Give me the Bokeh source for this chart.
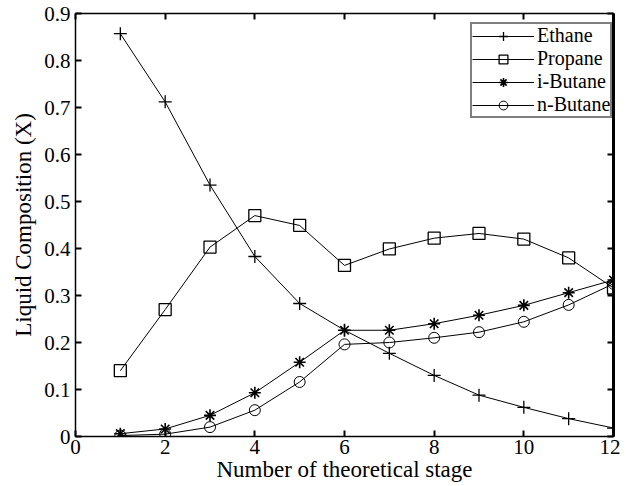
from bokeh.plotting import figure
from bokeh.models import LinearAxis, Range1d, Legend, LegendItem, FixedTicker
from bokeh.embed import file_html
from bokeh.resources import INLINE

stages = [1, 2, 3, 4, 5, 6, 7, 8, 9, 10, 11, 12]
ethane = [0.857, 0.712, 0.535, 0.383, 0.283, 0.226, 0.177, 0.130, 0.088, 0.062, 0.038, 0.018]
propane = [0.140, 0.270, 0.403, 0.470, 0.449, 0.364, 0.399, 0.422, 0.432, 0.420, 0.380, 0.316]
ibutane = [0.006, 0.016, 0.045, 0.093, 0.158, 0.226, 0.226, 0.240, 0.258, 0.279, 0.306, 0.333]
nbutane = [0.002, 0.005, 0.020, 0.056, 0.116, 0.196, 0.200, 0.210, 0.222, 0.244, 0.280, 0.325]
x_ticks = [0, 2, 4, 6, 8, 10, 12]
y_ticks = [0, 0.1, 0.2, 0.3, 0.4, 0.5, 0.6, 0.7, 0.8, 0.9]
y_tick_labels = ["0", "0.1", "0.2", "0.3", "0.4", "0.5", "0.6", "0.7", "0.8", "0.9"]

FONT = "Liberation Serif"

p = figure(width=620, height=484, output_backend="svg", toolbar_location=None,
           x_range=Range1d(0, 12), y_range=Range1d(0, 0.9),
           min_border_left=75, min_border_right=7, min_border_top=13, min_border_bottom=48)
p.xgrid.visible = False
p.ygrid.visible = False
p.outline_line_color = "black"
p.outline_line_width = 1.5
p.background_fill_color = "white"
p.border_fill_color = "white"

def style_axis(ax):
    ax.axis_line_color = "black"
    ax.major_tick_in = 6
    ax.major_tick_out = 0
    ax.minor_tick_in = 0
    ax.minor_tick_out = 0
    ax.major_tick_line_width = 2
    ax.major_label_text_font = FONT
    ax.major_label_text_font_size = "21px"
    ax.major_label_text_color = "black"
    ax.axis_label_text_font = FONT
    ax.axis_label_text_font_style = "normal"
    ax.axis_label_text_font_size = "23px"
    ax.axis_label_text_color = "black"

p.xaxis.ticker = FixedTicker(ticks=x_ticks)
p.yaxis.ticker = FixedTicker(ticks=y_ticks)
p.yaxis.major_label_overrides = {t: l for t, l in zip(y_ticks, y_tick_labels)}
p.xaxis.axis_label = "Number of theoretical stage"
p.yaxis.axis_label = "Liquid Composition (X)"
style_axis(p.xaxis[0])
style_axis(p.yaxis[0])
p.xaxis.axis_label_standoff = 0
p.xaxis.major_label_standoff = 3
p.yaxis.axis_label_standoff = 5
p.yaxis.major_label_standoff = 5

top_ax = LinearAxis(ticker=FixedTicker(ticks=x_ticks),
                    major_label_overrides={t: "" for t in x_ticks})
style_axis(top_ax)
p.add_layout(top_ax, "above")
right_ax = LinearAxis(ticker=FixedTicker(ticks=y_ticks),
                      major_label_overrides={t: "" for t in y_ticks})
style_axis(right_ax)
right_ax.axis_line_width = 3
p.add_layout(right_ax, "right")

items = []
l1 = p.line(stages, ethane, line_color="black", line_width=1)
m1 = p.scatter(stages, ethane, marker="cross", size=13, line_color="black", line_width=1.3)
items.append(LegendItem(label="Ethane", renderers=[l1, m1]))
l2 = p.line(stages, propane, line_color="black", line_width=1)
m2 = p.scatter(stages, propane, marker="square", size=12, line_color="black", fill_color=None, line_width=1.3)
items.append(LegendItem(label="Propane", renderers=[l2, m2]))
l3 = p.line(stages, ibutane, line_color="black", line_width=1)
m3 = p.scatter(stages, ibutane, marker="asterisk", size=12, line_color="black", line_width=1.6)
items.append(LegendItem(label="i-Butane", renderers=[l3, m3]))
l4 = p.line(stages, nbutane, line_color="black", line_width=1)
m4 = p.scatter(stages, nbutane, marker="circle", size=11, line_color="black", fill_color=None, line_width=1)
items.append(LegendItem(label="n-Butane", renderers=[l4, m4]))

legend = Legend(items=items, location=(395, 318))
legend.label_text_font = FONT
legend.label_text_font_size = "20px"
legend.label_text_color = "black"
legend.border_line_color = "black"
legend.border_line_width = 2
legend.background_fill_color = "white"
legend.background_fill_alpha = 1
legend.glyph_width = 62
legend.glyph_height = 22
legend.label_standoff = 3
legend.spacing = 0
legend.padding = 0
legend.margin = 0
legend.label_height = 22
p.add_layout(legend)

html = file_html(p, INLINE)
open("out.html", "w").write(html)
